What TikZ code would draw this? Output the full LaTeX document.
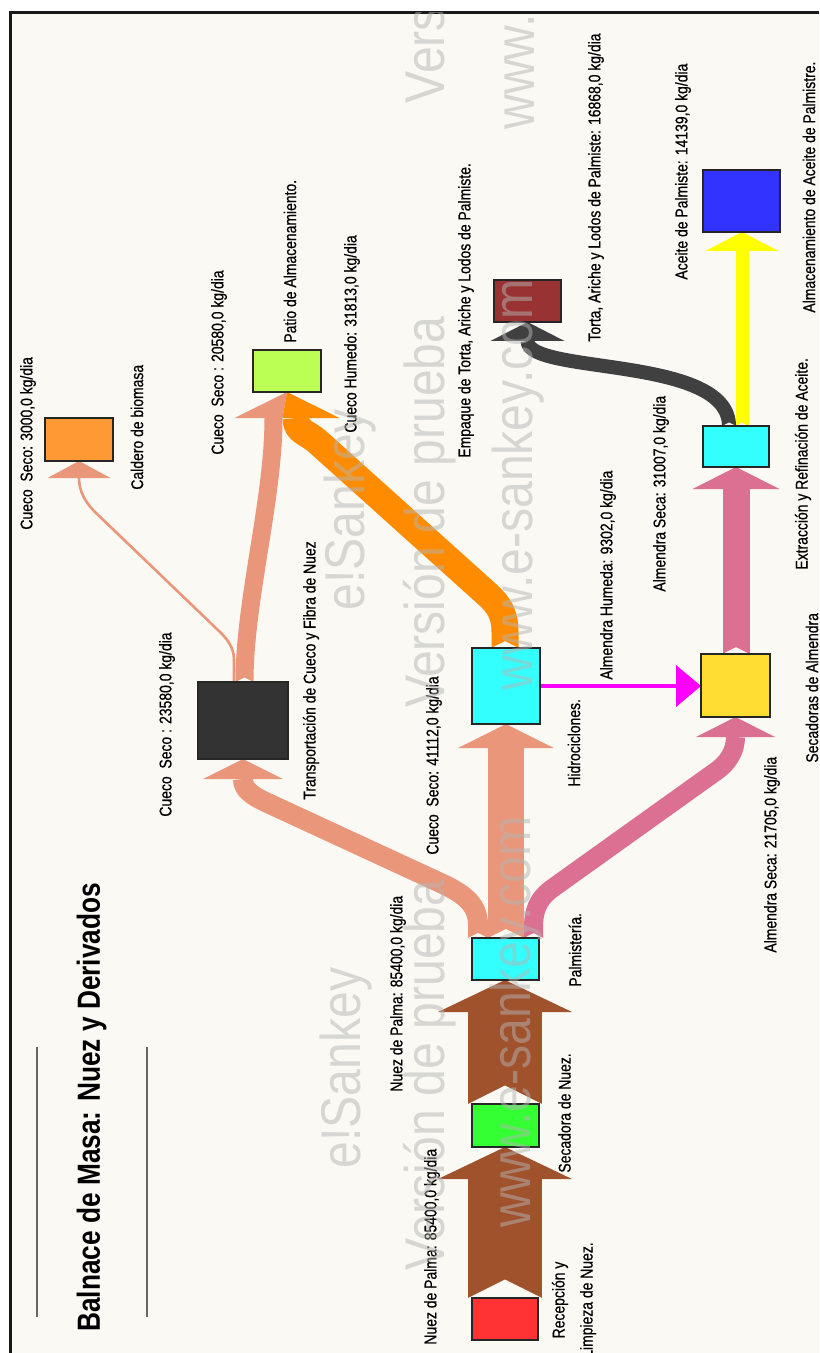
\documentclass[tikz,border=0pt]{standalone}
\usepackage{fontspec}
\newfontfamily\lab{Liberation Sans}[FakeStretch=0.82,FakeBold=0.6]
\newfontfamily\ttlfont{Liberation Sans}[FakeStretch=0.82]
\newfontfamily\wmfont{Liberation Sans}[FakeStretch=0.86]
\definecolor{paper}{HTML}{FAF9F3}
\definecolor{nut}{HTML}{A0522D}
\definecolor{shell}{HTML}{E9967A}
\definecolor{kernel}{HTML}{DB7093}
\definecolor{wetshell}{HTML}{FF8C00}
\definecolor{cake}{HTML}{404040}
\definecolor{oil}{HTML}{FFFF00}
\definecolor{wetkernel}{HTML}{FF00FF}
\definecolor{cRed}{HTML}{FF3333}
\definecolor{cGreen}{HTML}{33FF33}
\definecolor{cCyan}{HTML}{33FFFF}
\definecolor{cDark}{HTML}{333333}
\definecolor{cYellow}{HTML}{FFDD33}
\definecolor{cBlue}{HTML}{3333FF}
\definecolor{cBrick}{HTML}{993333}
\definecolor{cLime}{HTML}{BBFF55}
\definecolor{cOrange}{HTML}{FF9933}
\definecolor{wmgray}{HTML}{B4B4B4}
\begin{document}
\begin{tikzpicture}[x=0.5pt,y=-0.5pt,
  box/.style={draw=black!85,line width=0.8pt},
  lbl/.style={rotate=90,anchor=west,inner sep=0pt,text=black,
    font=\lab\fontsize{8.5}{14}\selectfont},
  wm/.style={rotate=90,inner sep=0pt,text=wmgray,opacity=0.5,
    font=\wmfont\fontsize{28}{30}\selectfont},
  flow/.style={line cap=butt,line join=round},
]
\useasboundingbox (0,0) rectangle (819,1353);
% page and frame
\fill[white] (0,0) rectangle (819,1353);
\fill[paper] (10.5,12.5) rectangle (819,1353);
\draw[line width=1.5pt,black!90] (10.5,1353) -- (10.5,12.5) -- (819,12.5);

% title
\draw[line width=1pt,black!60] (37,1047) -- (37,1317);
\draw[line width=1pt,black!60] (147,1047) -- (147,1317);
\node[rotate=90,anchor=west,inner sep=0pt,font=\ttlfont\bfseries\fontsize{16}{18}\selectfont] (title) at (91.5,1332) {Balnace de Masa: Nuez y Derivados};

% ---- flows ----
% palm nut
\draw[flow,nut,line width=37pt] (505,1298) -- (505,1179);
\fill[nut] (438,1179) -- (572,1179) -- (505,1147) -- cycle;
\draw[flow,nut,line width=37pt] (505,1104) -- (505,1012);
\fill[nut] (438,1012) -- (572,1012) -- (505,980) -- cycle;
% dry shell to transport
\draw[flow,shell,line width=10pt] (478,938) -- (478,925) .. controls (478,905) and (465,895) .. (445,885) -- (272,805) .. controls (252,796) and (243,790) .. (243,779);
\fill[shell] (203,779) -- (283,779) -- (243,759) -- cycle;
% dry shell to hydrocyclones
\draw[flow,shell,line width=18pt] (506,938) -- (506,748);
\fill[shell] (458,748) -- (554,748) -- (506,724) -- cycle;
% dry kernel to kernel dryers
\draw[flow,kernel,line width=9.5pt] (533.5,938) -- (533.5,928) .. controls (533.5,910) and (538,900) .. (550,890) -- (715,772) .. controls (727,764) and (735.5,752) .. (735.5,737);
\fill[kernel] (696,737) -- (775,737) -- (735.5,717) -- cycle;
% shell to boiler
\draw[flow,shell,line width=1.3pt] (234,682) -- (234,660) .. controls (234,648) and (228,640) .. (220,632) -- (95,512) .. controls (86,503) and (79,492) .. (79,478);
\fill[shell] (47.5,478) -- (110.5,478) -- (79,461) -- cycle;
% shell to storage yard
\draw[flow,shell,line width=9pt] (244.5,682) .. controls (244.5,600) and (273.5,500) .. (273.5,418);
\fill[shell] (234.5,418) -- (282.5,418) -- (287,392) -- cycle;
% wet shell to storage yard
\draw[flow,wetshell,line width=13.5pt] (505,648) -- (505,632) .. controls (505,614) and (499,605) .. (487,594) -- (318,442) .. controls (307,432) and (296,432) .. (296,418);
\fill[wetshell] (282.5,418) -- (339.5,418) -- (287,392) -- cycle;
% wet kernel
\draw[flow,wetkernel,line width=2pt] (540,686) -- (676,686);
\fill[wetkernel] (676,665) -- (676,707) -- (701,686) -- cycle;
% dry kernel to extraction
\draw[flow,kernel,line width=13.5pt] (736,654) -- (736,489);
\fill[kernel] (692.5,489) -- (779.5,489) -- (736,467) -- cycle;
% oil
\draw[flow,oil,line width=6.5pt] (742,426) -- (742,251);
\fill[oil] (705.5,251) -- (778.5,251) -- (742,232) -- cycle;
% cake
\draw[flow,cake,line width=7pt] (729,426) .. controls (729,355) and (527.5,375) .. (527.5,341);
\fill[cake] (490.5,341) -- (564.5,341) -- (527.5,322) -- cycle;

% tail notches
\fill[paper] (468,1298) -- (542,1298) -- (505,1279.5) -- cycle;
\fill[paper] (468,1104) -- (542,1104) -- (505,1085.5) -- cycle;
\fill[paper] (468,938) -- (488,938) -- (478,933) -- cycle;
\fill[paper] (488,938) -- (524,938) -- (506,929) -- cycle;
\fill[paper] (524,938) -- (543,938) -- (533.5,933.2) -- cycle;
\fill[paper] (235.5,682) -- (253.5,682) -- (244.5,677.5) -- cycle;
\fill[paper] (491.5,648) -- (518.5,648) -- (505,641.2) -- cycle;
\fill[paper] (722.5,654) -- (749.5,654) -- (736,647.2) -- cycle;
\fill[paper] (722,426) -- (736,426) -- (729,422.5) -- cycle;
\fill[paper] (735.5,426) -- (748.5,426) -- (742,422.7) -- cycle;

% ---- process boxes ----
\draw[box,fill=cRed] (472,1298) rectangle (538,1340);
\draw[box,fill=cGreen] (472,1104) rectangle (539,1147);
\draw[box,fill=cCyan] (472,938) rectangle (539,980);
\draw[box,fill=cDark] (198,682) rectangle (288,759);
\draw[box,fill=cCyan] (472,648) rectangle (540,724);
\draw[box,fill=cYellow] (701,654) rectangle (770,717);
\draw[box,fill=cCyan] (703,426) rectangle (769,467);
\draw[box,fill=cBlue] (703,170) rectangle (780,232);
\draw[box,fill=cBrick] (494,280) rectangle (561,322);
\draw[box,fill=cLime] (253,350) rectangle (321,392);
\draw[box,fill=cOrange] (45,418) rectangle (113,461);

% ---- labels ----
\node[lbl] (l1) at (432,1345) {Nuez de Palma: 85400,0 kg/dia};
\node[lbl] (l2) at (398,1092) {Nuez de Palma: 85400,0 kg/dia};
\node[lbl,align=center,anchor=center] (l3) at (574,1300) {Recepción y\\Limpieza de Nuez.};
\node[lbl] (l4) at (564.5,1173) {Secadora de Nuez.};
\node[lbl] (l5) at (575,987) {Palmistería.};
\node[lbl] (l6) at (434,855) {Cueco\ \ Seco: 41112,0 kg/dia};
\node[lbl] (l7) at (167,817) {Cueco\ \ Seco : 23580,0 kg/dia};
\node[lbl] (l8) at (311,800) {Transportación de Cueco y Fibra de Nuez};
\node[lbl] (l9) at (28,530) {Cueco\ \ Seco: 3000,0 kg/dia};
\node[lbl] (l10) at (137,490) {Caldero de biomasa};
\node[lbl] (l11) at (219,455) {Cueco\ \ Seco : 20580,0 kg/dia};
\node[lbl] (l12) at (290,343) {Patio de Almacenamiento.};
\node[lbl] (l13) at (352,433) {Cueco Humedo: 31813,0 kg/dia};
\node[lbl] (l14) at (466,458) {Empaque de Torta, Ariche y Lodos de Palmiste.};
\node[lbl] (l15) at (596,342) {Torta, Ariche y Lodos de Palmiste: 16868,0 kg/dia};
\node[lbl] (l16) at (683,280) {Aceite de Palmiste: 14139,0 kg/dia};
\node[lbl] (l17) at (809,313) {Almacenamiento de Aceite de Palmistre.};
\node[lbl] (l18) at (803,570) {Extracción y Refinación de Aceite.};
\node[lbl] (l19) at (661,592) {Almendra Seca: 31007,0 kg/dia};
\node[lbl] (l20) at (608,680) {Almendra Humeda: 9302,0 kg/dia};
\node[lbl] (l21) at (574,787) {Hidrociclones.};
\node[lbl] (l22) at (772,953) {Almendra Seca: 21705,0 kg/dia};
\node[lbl] (l23) at (812,763) {Secadoras de Almendra};

% ---- trial watermark ----
\begin{scope}
\clip (10.5,12.5) rectangle (819,1353);
\node[wm] (w1) at (346,1068) {e!Sankey};
\node[wm] (w2) at (430,1075) {Versión de prueba};
\node[wm] (w3) at (516,1022) {www.e-sankey.com};
\node[wm] (w4) at (350,510) {e!Sankey};
\node[wm] (w5) at (430,512) {Versión de prueba};
\node[wm] (w6) at (518,485) {www.e-sankey.com};
\node[wm] (w7) at (430,-92) {Versión de prueba};
\node[wm] (w8) at (520,-76) {www.e-sankey.com};
\end{scope}
\end{tikzpicture}
\end{document}
